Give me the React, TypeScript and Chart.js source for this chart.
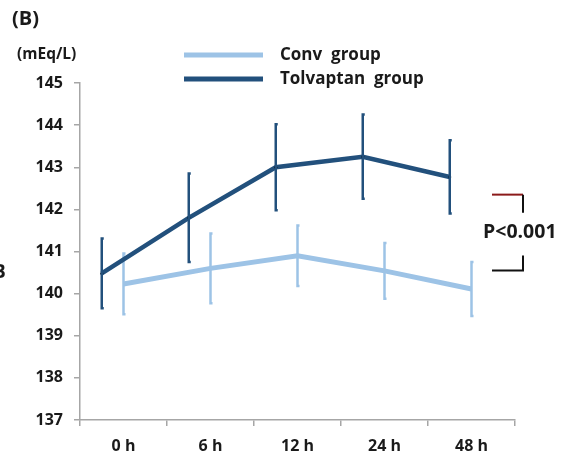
import React, { useEffect, useRef } from 'react';
import { Chart, registerables } from 'chart.js';

Chart.register(...registerables);

// ---- data ----
const categories = ['0 h', '6 h', '12 h', '24 h', '48 h'];
const seriesNames = ['Conv  group', 'Tolvaptan  group'];
const convMean = [140.23, 140.6, 140.9, 140.54, 140.11];
const convErr = [0.72, 0.83, 0.72, 0.66, 0.64];
const tolvMean = [140.48, 141.8, 143.0, 143.25, 142.77];
const tolvErr = [0.83, 1.05, 1.02, 1.0, 0.87];
const yMin = 137;
const yMax = 145;
const panelLabel = '(B)';
const unitLabel = '(mEq/L)';
const pLabel = 'P<0.001';
const bracketValues = [142.35, 140.55];
const tolvShift = -0.25; // fraction of a category

const convColor = '#9DC3E6';
const tolvColor = '#22507C';
const axisColor = '#A6A6A6';
const textColor = '#1a1a1a';
const FONT = '"Open Sans", Lato, "Liberation Sans", sans-serif';

const errorBarPlugin = {
  id: 'errorBars',
  afterDatasetDraw(chart: any, args: any) {
    const ds: any = chart.data.datasets[args.index];
    const errs: number[] | undefined = ds.errors;
    if (!errs) return;
    const ctx = chart.ctx;
    const y = chart.scales.y;
    ctx.save();
    ctx.strokeStyle = ds.borderColor;
    ctx.lineWidth = 2.5;
    ctx.lineCap = 'butt';
    args.meta.data.forEach((pt: any, i: number) => {
      const v = ds.data[i].y;
      const yt = y.getPixelForValue(v + errs[i]);
      const yb = y.getPixelForValue(v - errs[i]);
      ctx.beginPath();
      ctx.moveTo(pt.x, yt);
      ctx.lineTo(pt.x, yb);
      ctx.moveTo(pt.x - 1.25, yt);
      ctx.lineTo(pt.x + 2, yt);
      ctx.moveTo(pt.x - 1.25, yb);
      ctx.lineTo(pt.x + 2, yb);
      ctx.stroke();
    });
    ctx.restore();
  },
};

const decorPlugin = {
  id: 'decor',
  afterDraw(chart: any) {
    const ctx = chart.ctx;
    const area = chart.chartArea;
    const y = chart.scales.y;
    ctx.save();
    ctx.fillStyle = textColor;
    ctx.textBaseline = 'middle';
    ctx.textAlign = 'left';
    ctx.font = `bold 20px ${FONT}`;
    ctx.fillText(panelLabel, 12, 19);
    ctx.font = `bold 15.5px ${FONT}`;
    ctx.fillText(unitLabel, 17, 55);
    // cropped left label
    ctx.font = `bold 19px ${FONT}`;
    ctx.fillText('B', -7, 273);

    // legend
    const legendColors = [convColor, tolvColor];
    ctx.font = `bold 17px ${FONT}`;
    seriesNames.forEach((name, i) => {
      const ly = 55 + i * 24;
      ctx.strokeStyle = legendColors[i];
      ctx.lineWidth = 5;
      ctx.beginPath();
      ctx.moveTo(184, ly);
      ctx.lineTo(263, ly);
      ctx.stroke();
      ctx.fillStyle = textColor;
      ctx.fillText(name, 280, ly);
    });

    // p-value bracket
    const bx = area.right + 8;
    const topY = y.getPixelForValue(bracketValues[0]);
    const botY = y.getPixelForValue(bracketValues[1]);
    ctx.lineWidth = 2;
    ctx.strokeStyle = '#8B1A1A';
    ctx.beginPath();
    ctx.moveTo(bx - 31, topY);
    ctx.lineTo(bx, topY);
    ctx.stroke();
    ctx.strokeStyle = '#111';
    ctx.beginPath();
    ctx.moveTo(bx, topY);
    ctx.lineTo(bx, topY + 18);
    ctx.moveTo(bx, botY - 15);
    ctx.lineTo(bx, botY);
    ctx.lineTo(bx - 31, botY);
    ctx.stroke();
    ctx.fillStyle = textColor;
    ctx.font = `bold 19.5px ${FONT}`;
    ctx.fillText(pLabel, area.right - 32, (topY + botY) / 2);
    ctx.restore();
  },
};

export default function App() {
  const ref = useRef<HTMLCanvasElement | null>(null);
  useEffect(() => {
    if (!ref.current) return;
    const chart = new Chart(ref.current, {
      type: 'line',
      data: {
        datasets: [
          {
            label: seriesNames[1],
            data: tolvMean.map((v, i) => ({ x: i + 0.5 + tolvShift, y: v })),
            errors: tolvErr,
            borderColor: tolvColor,
            borderWidth: 4.5,
            pointRadius: 1.5,
            pointBackgroundColor: '#000',
            pointBorderWidth: 0,
            tension: 0,
            order: 0,
          } as any,
          {
            label: seriesNames[0],
            data: convMean.map((v, i) => ({ x: i + 0.5, y: v })),
            errors: convErr,
            borderColor: convColor,
            borderWidth: 5,
            pointRadius: 0,
            tension: 0,
            order: 1,
          } as any,
        ],
      },
      options: {
        responsive: false,
        animation: false,
        layout: { padding: { left: 0, top: 83, right: 55, bottom: 0 } },
        plugins: { legend: { display: false }, tooltip: { enabled: false } },
        scales: {
          x: {
            type: 'linear',
            min: 0,
            max: categories.length,
            afterFit: (s: any) => {
              s.height = 45;
            },
            ticks: {
              stepSize: 1,
              autoSkip: false,
              maxRotation: 0,
              labelOffset: 43.5,
              padding: 11,
              color: textColor,
              font: { family: FONT, weight: 'bold', size: 16 },
              callback: (v: any) => categories[v as number] ?? '',
            },
            grid: { drawOnChartArea: false, tickLength: 6, color: axisColor, lineWidth: 1.5 },
            border: { color: axisColor, width: 1.5 },
          },
          y: {
            min: yMin,
            max: yMax,
            afterFit: (s: any) => {
              s.width = 80;
            },
            ticks: {
              stepSize: 1,
              padding: 11,
              color: textColor,
              font: { family: FONT, weight: 'bold', size: 16 },
            },
            grid: { drawOnChartArea: false, tickLength: 6, color: axisColor, lineWidth: 1.5 },
            border: { color: axisColor, width: 1.5 },
          },
        },
      } as any,
      plugins: [errorBarPlugin, decorPlugin],
    });
    return () => chart.destroy();
  }, []);
  return (
    <div style={{ position: 'fixed', left: 0, top: 0, width: 570, height: 465, background: '#fff' }}>
      <canvas ref={ref} width={570} height={465} />
    </div>
  );
}
